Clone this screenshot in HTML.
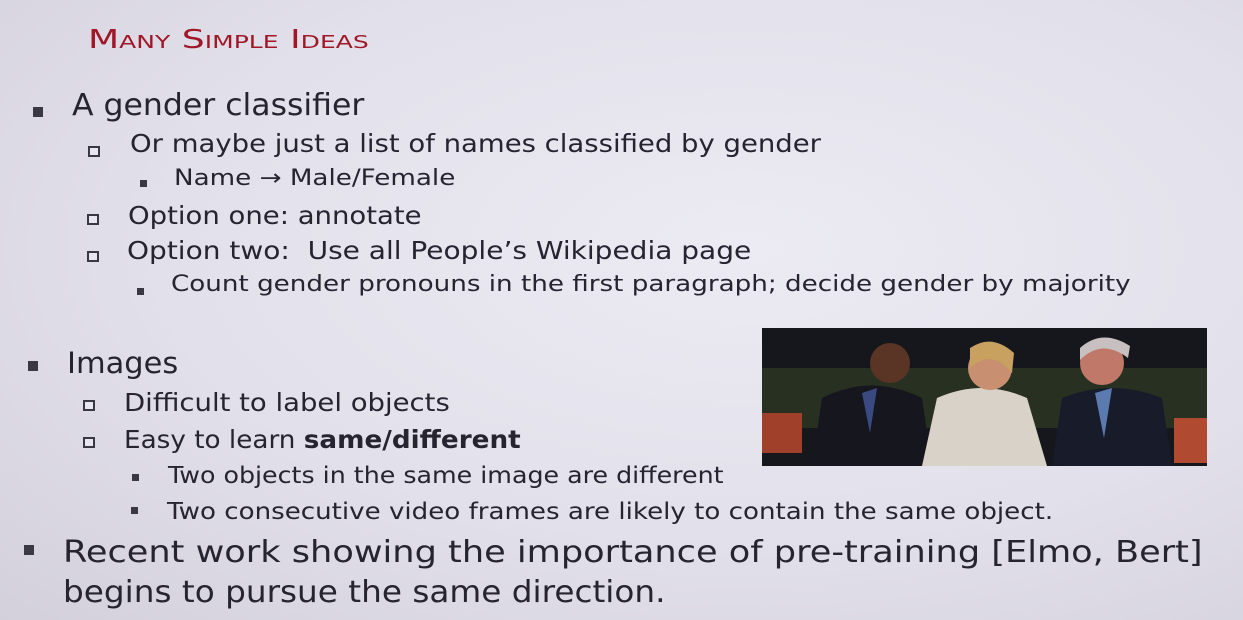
<!DOCTYPE html>
<html><head><meta charset="utf-8">
<style>
html,body{margin:0;padding:0}
body{width:1243px;height:620px;overflow:hidden;position:relative;
background:radial-gradient(ellipse at 60% 40%,#ecebf3 0%,#e2e0ea 55%,#d3d0dc 100%);
font-family:"DejaVu Sans","Liberation Sans",sans-serif;color:#262430}
.t{position:absolute;white-space:nowrap;line-height:1;transform-origin:0 50%}
.b{position:absolute;background:#3a3842}
.h{position:absolute;border:2px solid #3a3842;box-sizing:border-box;background:#e8e6ee}
.title{color:#a01828;font-size:26px;font-variant:small-caps}
</style></head><body>
<div class="t title" style="left:88px;top:27px;transform:scaleX(1.39)">Many Simple Ideas</div>

<div class="b" style="left:33px;top:107px;width:10px;height:10px"></div>
<div class="t" style="left:72px;top:91px;font-size:30px;transform:scaleX(1.05)">A gender classifier</div>

<div class="h" style="left:88px;top:146px;width:12px;height:11px"></div>
<div class="t" style="left:130px;top:131px;font-size:25px;transform:scaleX(1.1)">Or maybe just a list of names classified by gender</div>

<div class="b" style="left:140px;top:180px;width:7px;height:7px"></div>
<div class="t" style="left:174px;top:168px;font-size:22px;transform:scaleX(1.19)">Name → Male/Female</div>

<div class="h" style="left:87px;top:214px;width:12px;height:11px"></div>
<div class="t" style="left:128px;top:203px;font-size:25px;transform:scaleX(1.1)">Option one: annotate</div>

<div class="h" style="left:87px;top:251px;width:12px;height:11px"></div>
<div class="t" style="left:127px;top:238px;font-size:25px;transform:scaleX(1.12)">Option two:&nbsp; Use all People’s Wikipedia page</div>

<div class="b" style="left:137px;top:288px;width:7px;height:7px"></div>
<div class="t" style="left:171px;top:274px;font-size:22px;transform:scaleX(1.19)">Count gender pronouns in the first paragraph; decide gender by majority</div>

<div class="b" style="left:28px;top:361px;width:10px;height:10px"></div>
<div class="t" style="left:67px;top:349px;font-size:29px;transform:scaleX(1.05)">Images</div>

<div class="h" style="left:83px;top:400px;width:12px;height:11px"></div>
<div class="t" style="left:124px;top:390px;font-size:25px;transform:scaleX(1.1)">Difficult to label objects</div>

<div class="h" style="left:83px;top:437px;width:12px;height:11px"></div>
<div class="t" style="left:124px;top:427px;font-size:25px;transform:scaleX(1.05)">Easy to learn <b>same/different</b></div>

<div class="b" style="left:132px;top:474px;width:7px;height:7px"></div>
<div class="t" style="left:168px;top:465px;font-size:23px;transform:scaleX(1.1)">Two objects in the same image are different</div>

<div class="b" style="left:131px;top:507px;width:7px;height:7px"></div>
<div class="t" style="left:167px;top:501px;font-size:23px;transform:scaleX(1.135)">Two consecutive video frames are likely to contain the same object.</div>

<div class="b" style="left:24px;top:545px;width:10px;height:10px"></div>
<div class="t" style="left:63px;top:538px;font-size:30px;transform:scaleX(1.171)">Recent work showing the importance of pre-training [Elmo, Bert]</div>
<div class="t" style="left:63px;top:578px;font-size:30px;transform:scaleX(1.09)">begins to pursue the same direction.</div>

<svg style="position:absolute;left:762px;top:328px" width="445" height="138" viewBox="0 0 445 138">
<rect width="445" height="138" fill="#16171c"/>
<rect y="40" width="445" height="60" fill="#283022"/>
<rect x="0" y="85" width="40" height="40" fill="#a0402a"/>
<rect x="412" y="90" width="33" height="45" fill="#b04a30"/>
<path d="M50 138 L60 70 Q110 45 160 70 L170 138Z" fill="#15161e"/>
<circle cx="128" cy="35" r="20" fill="#5a3424"/>
<path d="M100 65 L115 60 L108 105Z" fill="#3a4a80"/>
<path d="M160 138 L175 70 Q220 50 265 70 L285 138Z" fill="#d8d2c8"/>
<circle cx="228" cy="40" r="22" fill="#c89070"/>
<path d="M208 20 Q230 5 252 25 L250 45 Q230 20 208 40Z" fill="#c8a060"/>
<path d="M290 138 L300 70 Q350 50 400 70 L410 138Z" fill="#181c2a"/>
<circle cx="340" cy="35" r="22" fill="#c07868"/>
<path d="M318 20 Q340 0 368 18 L366 30 Q340 10 318 32Z" fill="#c8c0c0"/>
<path d="M333 65 L350 60 L342 110Z" fill="#5a7ab0"/>
</svg>
</body></html>
